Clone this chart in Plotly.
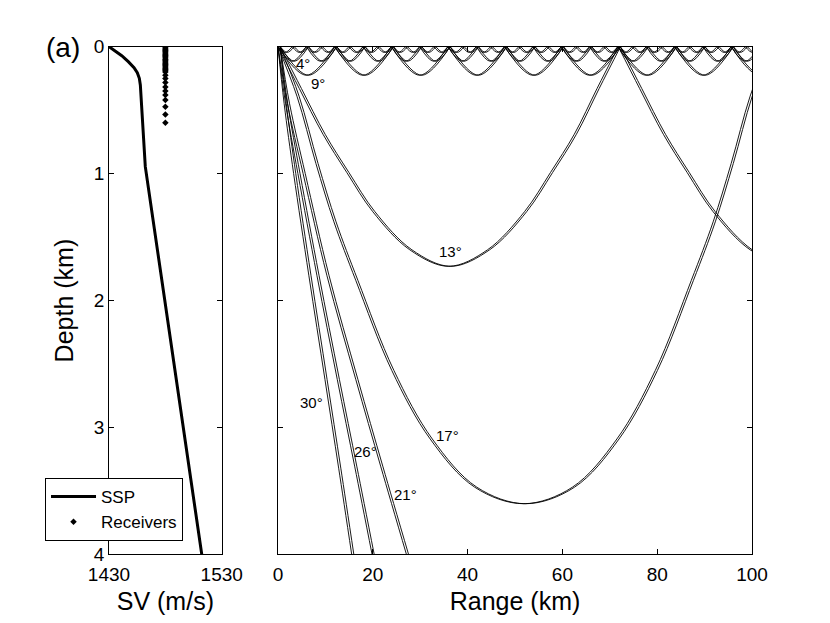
import plotly.graph_objects as go

# ---- sound speed profile (left panel) ----
ssp_depth = [0, 0.031, 0.071, 0.118, 0.165, 0.205, 0.249, 0.302, 0.394, 0.577, 0.787, 0.945, 2.0, 3.0, 4.0]
ssp_speed = [1430, 1435.3, 1441.3, 1447.1, 1452.2, 1455.1, 1456.9, 1457.8, 1458.4, 1459.6, 1461.1, 1462.2,
             1479.5, 1495.9, 1512.3]

rec_speed = 1480
rec_depth = [0, 0.01, 0.02, 0.03, 0.04, 0.05, 0.06, 0.07, 0.08, 0.09, 0.10, 0.11, 0.12, 0.13, 0.14, 0.15,
             0.16, 0.17, 0.18, 0.19, 0.20, 0.225, 0.25, 0.283, 0.317, 0.35, 0.38, 0.42, 0.474, 0.535, 0.60]

# ---- rays (right panel), waypoints: range km, depth km ----
ray30_r = [0, 1.3, 3.3, 6.5, 9.9, 12.8, 15.55]
ray30_z = [0, 0.45, 1.0, 1.8, 2.62, 3.32, 4.0]
ray26_r = [0, 1.6, 4.2, 8.2, 12.5, 16.2, 19.85]
ray26_z = [0, 0.45, 1.0, 1.8, 2.62, 3.31, 4.0]
ray21_r = [0, 2.0, 5.3, 10.3, 16.4, 21.7, 27.1]
ray21_z = [0, 0.45, 1.0, 1.8, 2.62, 3.31, 4.0]
ray17_r = [0, 4.0, 8.0, 11.8, 16.4, 24.0, 32.1, 41.5, 51.8, 62.1, 71.5, 79.6, 87.2, 91.8, 95.6, 99.6, 103.6]
ray17_z = [0, 0.39, 0.92, 1.38, 1.84, 2.55, 3.09, 3.47, 3.6, 3.47, 3.09, 2.55, 1.84, 1.38, 0.92, 0.39, 0]
ray13_r = [0, 4.5, 9.5, 14.5, 20.0, 27.8, 36.0, 44.2, 52.0, 57.5, 62.5, 67.3, 71.8,
           None, 71.8, 76.3, 81.3, 86.3, 91.8, 99.6, 107.8]
ray13_z = [0, 0.33, 0.69, 0.99, 1.3, 1.6, 1.73, 1.6, 1.3, 0.99, 0.69, 0.33, 0,
           None, 0, 0.33, 0.69, 0.99, 1.3, 1.6, 1.73]

# surface-ducted rays: surface hits, turning ranges, turning depth
duct9_hits = [0, 11.95, 23.9, 35.85, 47.8, 59.75, 71.7, 83.65, 95.6, 107.55]
duct9_turns = [5.98, 17.93, 29.88, 41.83, 53.78, 65.73, 77.68, 89.63, 101.58]
duct9_depth = 0.225
duct4_hits = [0, 5.98, 11.95, 17.93, 23.9, 29.88, 35.85, 41.83, 47.8, 53.78, 59.75, 65.73, 71.7,
              77.68, 83.65, 89.63, 95.6, 101.58]
duct4_turns = [2.99, 8.96, 14.94, 20.91, 26.89, 32.86, 38.84, 44.81, 50.79, 56.76, 62.74, 68.71,
               74.69, 80.66, 86.64, 92.61, 98.59]
duct4_depth = 0.115
duct0_hits = [0, 2.99, 5.98, 8.96, 11.95, 14.94, 17.93, 20.91, 23.9, 26.89, 29.88, 32.86, 35.85, 38.84,
              41.83, 44.81, 47.8, 50.79, 53.78, 56.76, 59.75, 62.74, 65.73, 68.71, 71.7, 74.69, 77.68,
              80.66, 83.65, 86.64, 89.63, 92.61, 95.6, 98.59, 101.58]
duct0_turns = [1.49, 4.48, 7.47, 10.46, 13.45, 16.43, 19.42, 22.41, 25.4, 28.38, 31.37, 34.36, 37.35,
               40.33, 43.32, 46.31, 49.3, 52.28, 55.27, 58.26, 61.25, 64.23, 67.22, 70.21, 73.2, 76.18,
               79.17, 82.16, 85.15, 88.13, 91.12, 94.11, 97.1, 100.08]
duct0_depth = 0.045

pair_shift_km = 0.45  # each ray drawn as a close pair

angle_labels = ["4°", "9°", "13°", "17°", "21°", "26°", "30°"]
label_r = [5.2, 8.4, 36.3, 35.7, 26.8, 18.4, 7.1]
label_z = [0.134, 0.29, 1.61, 3.06, 3.53, 3.19, 2.8]

fig = go.Figure()

fig.add_trace(go.Scatter(x=ssp_speed, y=ssp_depth, mode='lines', name='SSP',
                         line=dict(color='black', width=3), xaxis='x', yaxis='y'))
fig.add_trace(go.Scatter(x=[rec_speed] * len(rec_depth), y=rec_depth, mode='markers', name='Receivers',
                         marker=dict(symbol='diamond', color='black', size=5), xaxis='x', yaxis='y'))


def duct_path(hits, turns, depth):
    xs, ys = [], []
    for i in range(len(turns)):
        xs += [hits[i], turns[i], hits[i + 1], None]
        ys += [0, depth, 0, None]
    return xs, ys


rays = [(ray30_r, ray30_z), (ray26_r, ray26_z), (ray21_r, ray21_z), (ray17_r, ray17_z), (ray13_r, ray13_z),
        duct_path(duct9_hits, duct9_turns, duct9_depth),
        duct_path(duct4_hits, duct4_turns, duct4_depth),
        duct_path(duct0_hits, duct0_turns, duct0_depth)]

for rr, zz in rays:
    for shift in (0.0, pair_shift_km):
        fig.add_trace(go.Scatter(x=[r + shift if r is not None else None for r in rr], y=zz,
                                 mode='lines', line=dict(color='black', width=0.9, shape='spline'),
                                 showlegend=False, hoverinfo='skip', xaxis='x2', yaxis='y2'))

for txt, r, z in zip(angle_labels, label_r, label_z):
    fig.add_annotation(x=r, y=z, xref='x2', yref='y2', text=txt, showarrow=False,
                       font=dict(size=15, color='black'))

fig.add_annotation(x=0.0657, y=0.936, xref='paper', yref='paper', text='(a)', showarrow=False,
                   xanchor='center', yanchor='middle', font=dict(size=28, color='black'))

axis_style = dict(showline=True, linecolor='black', linewidth=1, mirror='ticks', ticks='inside',
                  ticklen=5, tickcolor='black', showgrid=False, zeroline=False, automargin=False,
                  tickfont=dict(size=19, color='black'), title_font=dict(size=25, color='black'))

fig.update_layout(
    width=830, height=623,
    margin=dict(l=0, r=0, t=0, b=0),
    paper_bgcolor='white', plot_bgcolor='white',
    font=dict(family='Liberation Sans, Arial, sans-serif', color='black'),
    xaxis=dict(domain=[0.1217, 0.2575], range=[1430, 1530], tickvals=[1430, 1530], ticklabelstandoff=3,
               title=dict(text='SV (m/s)', standoff=8), anchor='y', **axis_style),
    yaxis=dict(domain=[0.1228, 0.9379], range=[4, 0], tickvals=[0, 1, 2, 3, 4],
               title=dict(text='Depth (km)', standoff=12), anchor='x', **axis_style),
    xaxis2=dict(domain=[0.3253, 0.8964], range=[0, 100], tickvals=[0, 20, 40, 60, 80, 100],
                ticklabelstandoff=3, title=dict(text='Range (km)', standoff=8), anchor='y2', **axis_style),
    yaxis2=dict(domain=[0.1228, 0.9379], range=[4, 0], tickvals=[0, 1, 2, 3, 4], showticklabels=False,
                anchor='x2', **axis_style),
    legend=dict(x=0.0446, y=0.2456, xanchor='left', yanchor='top', bgcolor='white',
                bordercolor='black', borderwidth=1, itemwidth=45, tracegroupgap=0,
                font=dict(size=17, color='black')),
    showlegend=True,
)

fig.write_html("out.html")
